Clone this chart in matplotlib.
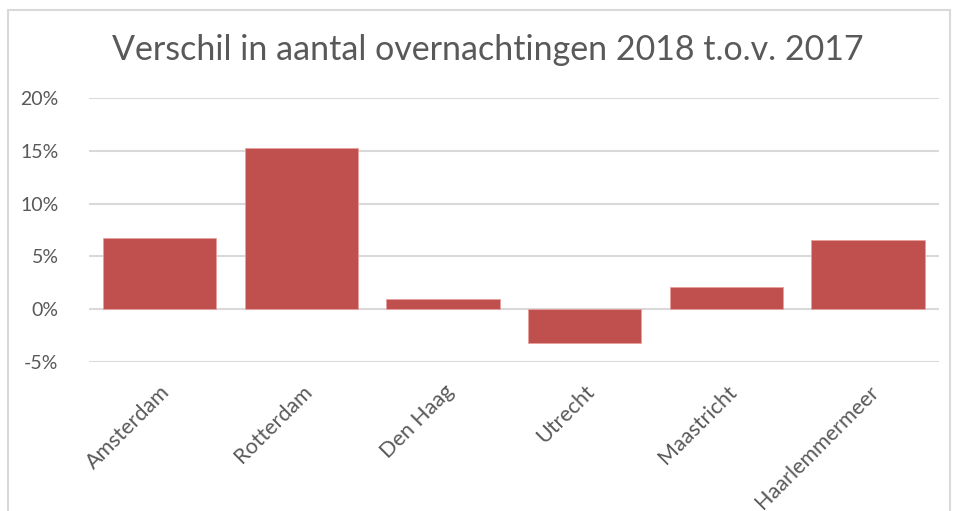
import matplotlib
matplotlib.use("Agg")
import matplotlib.pyplot as plt
from matplotlib.patches import Rectangle
from matplotlib.ticker import FuncFormatter

categories = ["Amsterdam", "Rotterdam", "Den Haag", "Utrecht", "Maastricht", "Haarlemmermeer"]
values = [6.75, 15.25, 0.95, -3.2, 2.1, 6.6]
yticks = [-5, 0, 5, 10, 15, 20]
title = "Verschil in aantal overnachtingen 2018 t.o.v. 2017"

W, H = 960, 511
fig = plt.figure(figsize=(W/100, H/100), dpi=100)
plt.rcParams['font.family'] = ['Lato', 'DejaVu Sans']

# outer chart border
fig.patches.append(Rectangle((8/W, -0.1), (950-8)/W, 1.1 - 10/H, transform=fig.transFigure,
                             fill=False, edgecolor="#D9D9D9", linewidth=1.5))

ax = fig.add_axes([89/W, 1 - 362/H, (939-89)/W, (362-98)/H])
x = list(range(len(categories)))
ax.bar(x, values, width=0.8, color="#C0504D", edgecolor="#E8A09E", linewidth=0.6, zorder=3)
ax.set_xlim(-0.5, len(categories) - 0.5)
ax.set_ylim(-5, 20)
ax.set_yticks(yticks)
ax.yaxis.set_major_formatter(FuncFormatter(lambda v, p: f"{int(v)}%"))
ax.grid(axis="y", color="#D9D9D9", linewidth=1.5, zorder=0)
for s in ax.spines.values():
    s.set_visible(False)
ax.tick_params(axis="both", length=0, labelcolor="#595959")
ax.tick_params(axis="y", pad=22, labelsize=14)
ax.set_xticks(x)
ax.set_xticklabels(categories, rotation=45, ha="right", rotation_mode="anchor", fontsize=15.5)
ax.tick_params(axis="x", pad=14)

fig.text(488/W, 1 - 50/H, title, ha="center", va="center", fontsize=24.5, color="#595959")

fig.savefig("out.png", dpi=100)
